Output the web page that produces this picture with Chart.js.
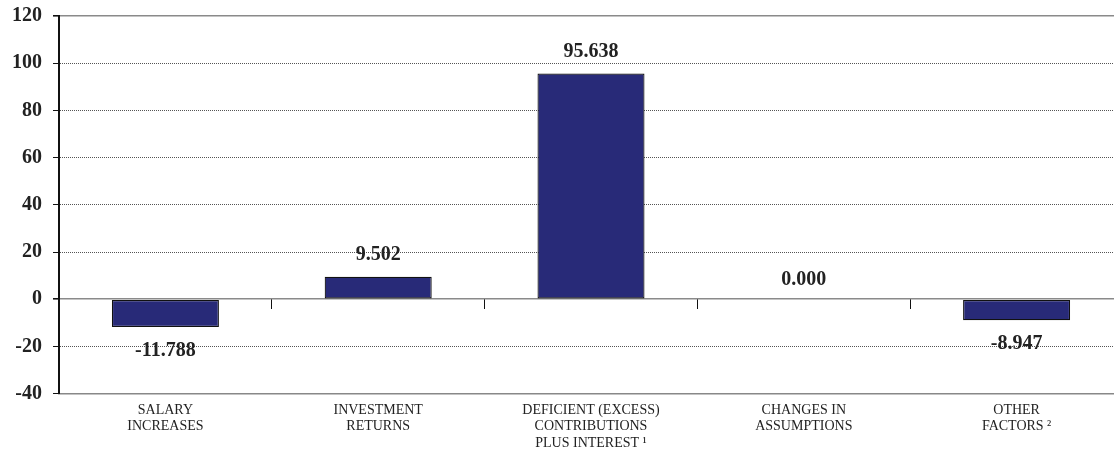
<!DOCTYPE html>
<html>
<head>
<meta charset="utf-8">
<script src="https://cdn.jsdelivr.net/npm/chart.js@4/dist/chart.umd.min.js"></script>
<style>
  html, body { margin: 0; padding: 0; background: #fff; overflow: hidden; width: 1114px; height: 451px; }
  #wrap { position: absolute; left: 0; top: -7px; width: 1124px; height: 469px; }
</style>
</head>
<body>
<div id="wrap"><canvas id="c"></canvas></div>
<script>
const categories = [
  ["SALARY", "INCREASES"],
  ["INVESTMENT", "RETURNS"],
  ["DEFICIENT (EXCESS)", "CONTRIBUTIONS", "PLUS INTEREST \u00B9"],
  ["CHANGES IN", "ASSUMPTIONS"],
  ["OTHER", "FACTORS \u00B2"]
];
const values = [-11.788, 9.502, 95.638, 0.000, -8.947];
const valueLabels = ["-11.788", "9.502", "95.638", "0.000", "-8.947"];
const yMin = -40, yMax = 120, yStep = 20;

const serif = "'Liberation Serif', 'Times New Roman', serif";

const dataLabels = {
  id: 'dataLabels',
  afterDatasetsDraw(chart) {
    const ctx = chart.ctx;
    const meta = chart.getDatasetMeta(0);
    ctx.save();
    ctx.font = "bold 20px " + serif;
    ctx.fillStyle = "#222";
    ctx.textAlign = "center";
    ctx.textBaseline = "middle";
    meta.data.forEach((bar, i) => {
      const v = values[i];
      let y;
      if (v > 0) y = bar.y - 22;
      else if (v === 0) y = bar.y - 19;
      else y = bar.y + 24;
      ctx.fillText(valueLabels[i], bar.x, y);
    });
    ctx.restore();
  }
};

new Chart(document.getElementById('c'), {
  type: 'bar',
  data: {
    labels: categories,
    datasets: [{
      data: values,
      backgroundColor: '#282a78',
      borderColor: '#111',
      borderWidth: 1.2,
      borderSkipped: false,
      barPercentage: 1.0,
      categoryPercentage: 0.503,
      xAxisID: 'x'
    }]
  },
  options: {
    responsive: true,
    maintainAspectRatio: false,
    animation: false,
    layout: { padding: { left: 1, top: 8, right: 1, bottom: 2 } },
    plugins: {
      legend: { display: false },
      tooltip: { enabled: false }
    },
    scales: {
      x: {
        type: 'category',
        position: 'bottom',
        offset: true,
        grid: { display: true, color: 'rgba(0,0,0,0)', drawTicks: false, offset: true },
        border: { display: true, color: '#888', width: 1.5 },
        ticks: {
          color: '#222',
          font: { family: serif, size: 14, lineHeight: 1.2 },
          padding: 8,
          maxRotation: 0,
          autoSkip: false
        }
      },
      x2: {
        type: 'category',
        position: { y: 0 },
        offset: true,
        grid: { display: true, drawOnChartArea: false, drawTicks: true, tickLength: 10, tickColor: '#111', tickWidth: 1, offset: true },
        border: { display: false },
        ticks: { display: false }
      },
      y: {
        min: yMin,
        max: yMax,
        ticks: {
          stepSize: yStep,
          color: '#222',
          font: { family: serif, size: 20, weight: 'bold' },
          padding: 11
        },
        grid: {
          color: ctx => {
            const v = ctx.tick ? ctx.tick.value : null;
            if (v === yMin) return 'rgba(0,0,0,0)';
            if (v === 0 || v === yMax) return '#8a8a8a';
            return '#555';
          },
          lineWidth: ctx => {
            const v = ctx.tick ? ctx.tick.value : null;
            if (v === 0 || v === yMax) return 1.6;
            return 1;
          },
          tickColor: '#111',
          tickLength: 6,
          drawTicks: true
        },
        border: {
          display: true,
          color: '#111',
          width: 2,
          dash: ctx => {
            const v = ctx.tick ? ctx.tick.value : null;
            if (v === 0 || v === yMax || v === yMin) return [];
            return [1, 1];
          }
        }
      }
    }
  },
  plugins: [dataLabels]
});
</script>
</body>
</html>
